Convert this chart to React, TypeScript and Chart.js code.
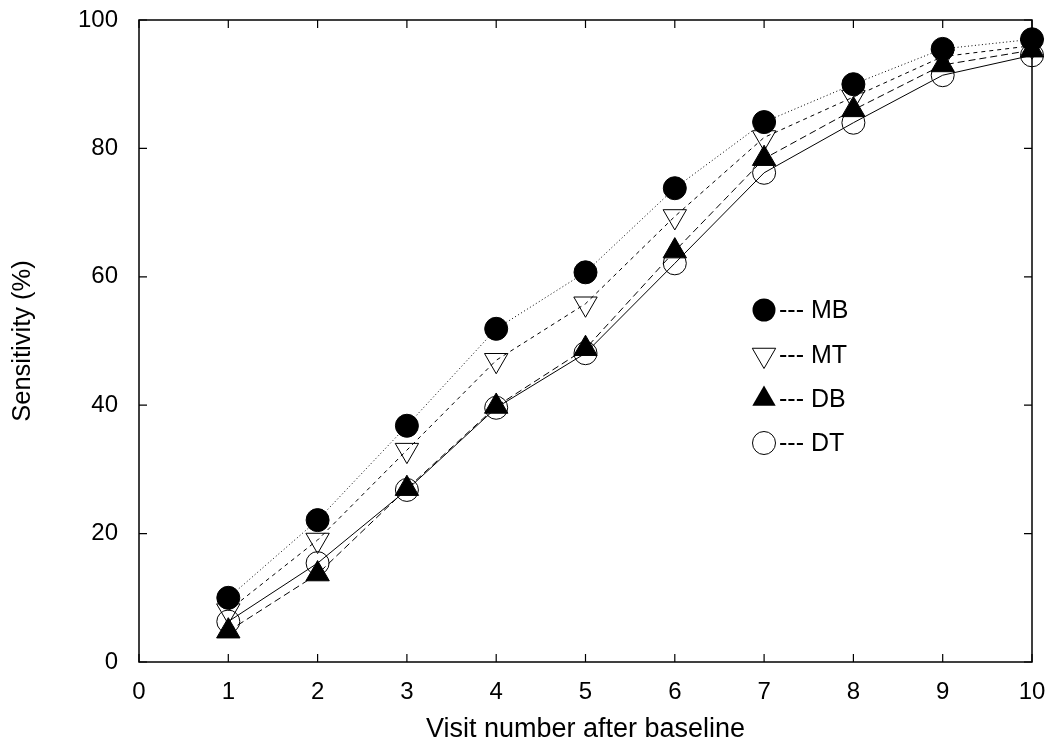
import React, { useEffect, useRef } from 'react';
import { Chart, registerables } from 'chart.js';

Chart.register(...registerables);

const visits = [1, 2, 3, 4, 5, 6, 7, 8, 9, 10];
const mbValues = [10.0, 22.1, 36.8, 51.9, 60.7, 73.8, 84.1, 90.0, 95.5, 97.0];
const mtValues = [8.0, 19.0, 33.0, 47.0, 55.8, 69.4, 81.7, 88.0, 94.3, 96.0];
const dbValues = [4.8, 13.7, 27.0, 39.8, 48.8, 64.0, 78.4, 86.0, 93.0, 95.3];
const dtValues = [6.3, 15.4, 26.8, 39.6, 48.1, 62.1, 76.2, 84.0, 91.4, 94.5];
const xTicks = [0, 1, 2, 3, 4, 5, 6, 7, 8, 9, 10];
const yTicks = [0, 20, 40, 60, 80, 100];
const seriesNames = ['MB', 'MT', 'DB', 'DT'];

const FONT = '"Liberation Sans", Arial, Helvetica, sans-serif';

function drawMarker(ctx: CanvasRenderingContext2D, kind: string, x: number, y: number) {
  ctx.save();
  ctx.strokeStyle = '#000';
  ctx.fillStyle = '#000';
  ctx.lineWidth = 1;
  ctx.beginPath();
  if (kind === 'MB' || kind === 'DT') {
    ctx.arc(x, y, 11.5, 0, Math.PI * 2);
    if (kind === 'MB') ctx.fill();
    else ctx.stroke();
  } else {
    const r = 13.5;
    const dir = kind === 'DB' ? -1 : 1;
    for (let i = 0; i < 3; i++) {
      const a = (i * 2 * Math.PI) / 3;
      const px = x + Math.sin(a) * r;
      const py = y + dir * Math.cos(a) * r;
      if (i === 0) ctx.moveTo(px, py);
      else ctx.lineTo(px, py);
    }
    ctx.closePath();
    if (kind === 'DB') ctx.fill();
    else ctx.stroke();
  }
  ctx.restore();
}

const framePlugin = {
  id: 'frame',
  afterDraw(chart: any) {
    const { ctx, chartArea } = chart;
    const { left, right, top, bottom } = chartArea;
    const xs = chart.scales.x;
    const ys = chart.scales.y;
    ctx.save();
    ctx.strokeStyle = '#000';
    ctx.lineWidth = 1.5;
    ctx.strokeRect(left, top, right - left, bottom - top);
    ctx.lineWidth = 1.2;
    ctx.beginPath();
    xTicks.forEach((v) => {
      const px = xs.getPixelForValue(v);
      ctx.moveTo(px, bottom);
      ctx.lineTo(px, bottom - 8);
      ctx.moveTo(px, top);
      ctx.lineTo(px, top + 8);
    });
    yTicks.forEach((v) => {
      const py = ys.getPixelForValue(v);
      ctx.moveTo(left, py);
      ctx.lineTo(left + 8, py);
      ctx.moveTo(right, py);
      ctx.lineTo(right - 8, py);
    });
    ctx.stroke();

    // legend
    const rows = [310, 355, 399, 443];
    ctx.font = '25px ' + FONT;
    ctx.fillStyle = '#000';
    ctx.textBaseline = 'middle';
    ctx.textAlign = 'left';
    seriesNames.forEach((name, i) => {
      drawMarker(ctx, name, 764, rows[i]);
      ctx.fillText('--- ' + name, 779, rows[i] + 1);
    });
    ctx.restore();
  },
};

export default function App() {
  const ref = useRef<HTMLCanvasElement>(null);
  useEffect(() => {
    document.body.style.margin = '0';
    const canvas = ref.current!;
    const transparent = 'rgba(0,0,0,0)';
    const mk = (data: number[], dash: number[], style: string, extra: any) => ({
      label: '',
      data: visits.map((v, i) => ({ x: v, y: data[i] })),
      borderColor: '#000',
      borderWidth: 1,
      borderDash: dash,
      pointStyle: style,
      pointBorderColor: '#000',
      pointBorderWidth: 1,
      tension: 0,
      clip: false,
      ...extra,
    });
    const chart = new Chart(canvas, {
      type: 'line',
      data: {
        datasets: [
          mk(mbValues, [1, 2.5], 'circle', { pointRadius: 11.5, pointBackgroundColor: '#000' }),
          mk(mtValues, [4, 4], 'triangle', { pointRadius: 13.5, pointRotation: 180, pointBackgroundColor: transparent }),
          mk(dbValues, [7, 4], 'triangle', { pointRadius: 13.5, pointBackgroundColor: '#000' }),
          mk(dtValues, [], 'circle', { pointRadius: 11.5, pointBackgroundColor: transparent }),
        ] as any,
      },
      options: {
        responsive: false,
        animation: false,
        layout: { autoPadding: false, padding: { left: 0, top: 20, right: 28, bottom: 0 } },
        plugins: { legend: { display: false }, tooltip: { enabled: false } },
        scales: {
          x: {
            type: 'linear',
            min: 0,
            max: 10,
            afterFit: (s: any) => { s.height = 84; },
            afterBuildTicks: (s: any) => { s.ticks = xTicks.map((v) => ({ value: v })); },
            grid: { display: false, drawTicks: true, tickLength: 16 },
            border: { display: false },
            ticks: { color: '#000', font: { family: FONT, size: 24 }, padding: 0, maxRotation: 0 },
            title: { display: true, text: 'Visit number after baseline', color: '#000', font: { family: FONT, size: 27 }, padding: { top: 0, bottom: 0 } },
          },
          y: {
            type: 'linear',
            min: 0,
            max: 100,
            afterFit: (s: any) => { s.width = 139; },
            afterBuildTicks: (s: any) => { s.ticks = yTicks.map((v) => ({ value: v })); },
            grid: { display: false, drawTicks: true, tickLength: 21 },
            border: { display: false },
            ticks: { color: '#000', font: { family: FONT, size: 24 }, padding: 0 },
            title: { display: true, text: 'Sensitivity (%)', color: '#000', font: { family: FONT, size: 25.5 }, padding: { top: 8, bottom: 0 } },
          },
        },
      },
      plugins: [framePlugin],
    });
    return () => chart.destroy();
  }, []);
  return <canvas ref={ref} width={1060} height={746} style={{ display: 'block' }} />;
}
